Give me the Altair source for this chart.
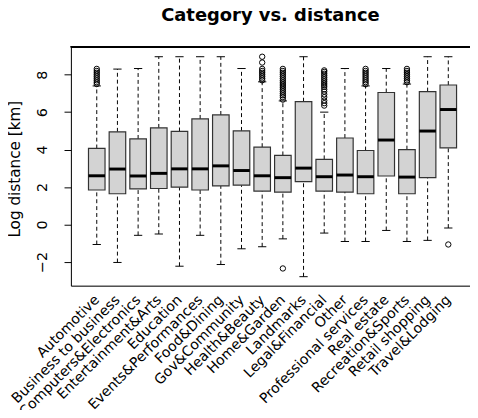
import altair as alt
import pandas as pd

categories = ["Automotive", "Business to business", "Computers&Electronics",
              "Entertainment&Arts", "Education", "Events&Performances",
              "Food&Dining", "Gov&Community", "Health&Beauty", "Home&Garden",
              "Landmarks", "Legal&Financial", "Other", "Professional services",
              "Real estate", "Recreation&Sports", "Retail shopping", "Travel&Lodging"]

whisker_low = [-1.07, -2.03, -0.58, -0.51, -2.23, -0.58, -2.14, -1.30, -1.19,
               -0.77, -2.79, -0.46, -0.91, -0.91, -0.32, -0.91, -0.85, -0.19]
q1 = [1.84, 1.64, 1.90, 1.92, 1.99, 1.84, 2.06, 2.10, 1.78,
      1.73, 2.29, 1.78, 1.73, 1.64, 2.59, 1.64, 2.50, 4.09]
median = [2.60, 2.96, 2.59, 2.73, 2.97, 2.97, 3.13, 2.88, 2.60,
          2.50, 3.01, 2.55, 2.64, 2.55, 4.51, 2.53, 4.99, 6.14]
q3 = [4.06, 4.95, 4.57, 5.16, 4.97, 5.64, 5.85, 5.00, 4.13,
      3.69, 6.56, 3.48, 4.62, 3.95, 7.05, 4.00, 7.10, 7.45]
whisker_high = [7.40, 8.30, 8.33, 8.96, 8.96, 8.96, 8.96, 8.33, 7.62,
                6.60, 8.96, 6.00, 8.33, 7.40, 8.33, 7.50, 8.96, 8.96]

outliers = {
    "Automotive": [8.31, 8.2, 8.1, 8.0, 7.9, 7.8, 7.7, 7.6, 7.5],
    "Health&Beauty": [8.96, 8.65, 8.31, 8.2, 8.1, 8.0, 7.9, 7.8, 7.7],
    "Home&Garden": [8.31, 8.2, 8.1, 8.0, 7.9, 7.8, 7.7, 7.6, 7.5, 7.4, 7.3, 7.2,
                    7.1, 7.0, 6.9, 6.8, 6.67, -2.35],
    "Legal&Financial": [8.23, 8.15, 8.05, 7.95, 7.85, 7.75, 7.65, 7.55, 7.45,
                        7.35, 7.22, 7.1, 6.95, 6.8, 6.62, 6.48, 6.35],
    "Professional services": [8.31, 8.2, 8.1, 8.0, 7.9, 7.8, 7.7, 7.6, 7.49],
    "Recreation&Sports": [8.31, 8.2, 8.1, 8.0, 7.9, 7.8, 7.7, 7.6],
    "Travel&Lodging": [-1.07],
}

y_ticks = [-2, 0, 2, 4, 6, 8]

df = pd.DataFrame({
    "cat": categories,
    "i": list(range(1, len(categories) + 1)),
    "lo": whisker_low, "q1": q1, "med": median, "q3": q3, "hi": whisker_high,
})
out_rows = []
for c, vals in outliers.items():
    for v in vals:
        out_rows.append({"cat": c, "i": categories.index(c) + 1, "v": v})
odf = pd.DataFrame(out_rows)

FONT = "DejaVu Sans"
W, H = 406, 243

label_arr = "[" + ",".join("'" + c + "'" for c in categories) + "]"
xscale = alt.Scale(domain=[-0.25, 19.05], nice=False, zero=False)
yscale = alt.Scale(domain=[-3.27, 9.49], nice=False, zero=False)

xaxis = alt.Axis(values=list(range(1, len(categories) + 1)), labelExpr=label_arr + "[datum.value - 1]",
                 labelAngle=-45, labelAlign="right", labelBaseline="middle",
                 ticks=False, tickSize=0, labelPadding=12, labelFont=FONT, labelFontSize=14.3,
                 labelColor="black", domainColor="black", domainWidth=1, grid=False,
                 title=None, labelOverlap=False, labelBound=False, labelFlush=False)
yaxis = alt.Axis(values=y_ticks, labelAngle=-90, labelAlign="center", labelBaseline="alphabetic",
                 tickSize=7, tickColor="black", labelPadding=18, labelFont=FONT, labelFontSize=14.5,
                 labelColor="black", domainColor="black", grid=False,
                 title="Log distance [km]", titleFont=FONT, titleFontSize=15.5, titleFontWeight="normal",
                 titleColor="black", titleX=-57, titleY=124, titleAngle=-90, titleBaseline="middle",
                 titleAlign="center", labelOverlap=False, labelFlush=False)

base = alt.Chart(df)

whisk_up = base.mark_rule(color="black", strokeDash=[4, 3], strokeWidth=1).encode(
    x=alt.X("i:Q", scale=xscale, axis=xaxis),
    y=alt.Y("q3:Q", scale=yscale, axis=yaxis),
    y2="hi:Q")
whisk_lo = base.mark_rule(color="black", strokeDash=[4, 3], strokeWidth=1).encode(
    x=alt.X("i:Q", scale=xscale, axis=xaxis),
    y=alt.Y("lo:Q", scale=yscale, axis=yaxis),
    y2="q1:Q")

caps_hi = base.transform_calculate(a="datum.i - 0.2", b="datum.i + 0.2").mark_rule(
    color="black", strokeWidth=1).encode(
    x=alt.X("a:Q", scale=xscale, axis=xaxis), x2="b:Q",
    y=alt.Y("hi:Q", scale=yscale, axis=yaxis))
caps_lo = base.transform_calculate(a="datum.i - 0.2", b="datum.i + 0.2").mark_rule(
    color="black", strokeWidth=1).encode(
    x=alt.X("a:Q", scale=xscale, axis=xaxis), x2="b:Q",
    y=alt.Y("lo:Q", scale=yscale, axis=yaxis))

boxes = base.transform_calculate(a="datum.i - 0.4", b="datum.i + 0.4").mark_rect(
    fill="#D3D3D3", stroke="#333333", strokeWidth=1.2).encode(
    x=alt.X("a:Q", scale=xscale, axis=xaxis), x2="b:Q",
    y=alt.Y("q1:Q", scale=yscale, axis=yaxis), y2="q3:Q")

medians = base.transform_calculate(a="datum.i - 0.4", b="datum.i + 0.4").mark_rule(
    color="black", strokeWidth=3).encode(
    x=alt.X("a:Q", scale=xscale, axis=xaxis), x2="b:Q",
    y=alt.Y("med:Q", scale=yscale, axis=yaxis))

points = alt.Chart(odf).mark_point(shape="circle", filled=False, color="black",
                                   size=30, strokeWidth=1, opacity=1).encode(
    x=alt.X("i:Q", scale=xscale, axis=xaxis),
    y=alt.Y("v:Q", scale=yscale, axis=yaxis))

top_border = alt.Chart(df).mark_rule(color="black", strokeWidth=1).encode(
    x=alt.value(0), x2=alt.value(W), y=alt.value(0))

chart = alt.layer(whisk_up, whisk_lo, caps_hi, caps_lo, boxes, medians, points, top_border).properties(
    width=W, height=H,
    autosize=alt.AutoSizeParams(type="none"),
    padding={"left": 64, "top": 36, "right": 0, "bottom": 123},
    title=alt.TitleParams("Category vs. distance", font=FONT, fontSize=18.2, fontWeight="bold",
                          anchor="middle", frame="group", offset=22, color="black"),
).configure_view(stroke=None).configure(background="white")

chart.save("out.html", embed_options={"renderer": "svg", "actions": False})
